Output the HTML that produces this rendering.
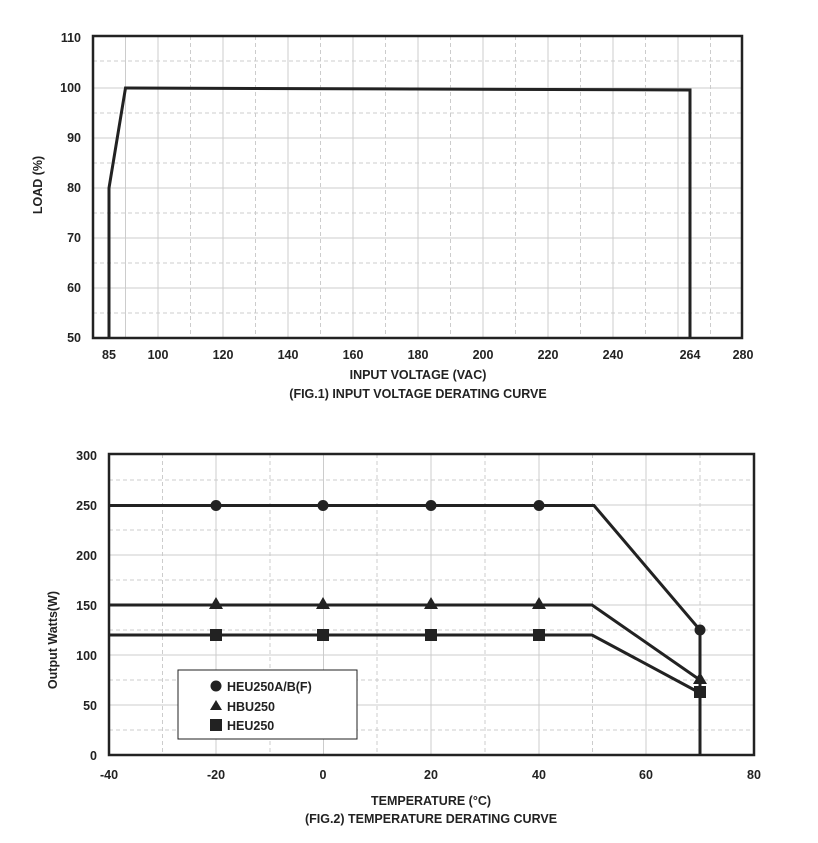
<!DOCTYPE html>
<html><head><style>body{margin:0;background:#fff}svg{display:block}text{font-family:"Liberation Sans",Arial,sans-serif;font-weight:bold;fill:#222}</style></head>
<body>
<svg width="818" height="843" viewBox="0 0 818 843" xmlns="http://www.w3.org/2000/svg">
<g id="f1">
<!-- grid fig1 -->
<g stroke="#ccc" stroke-width="1">
<line x1="125.5" y1="36" x2="125.5" y2="338"/><line x1="158" y1="36" x2="158" y2="338"/>
<line x1="190.5" y1="36" x2="190.5" y2="338" stroke-dasharray="4,3"/><line x1="223" y1="36" x2="223" y2="338"/>
<line x1="255.5" y1="36" x2="255.5" y2="338" stroke-dasharray="4,3"/><line x1="288" y1="36" x2="288" y2="338"/>
<line x1="320.5" y1="36" x2="320.5" y2="338" stroke-dasharray="4,3"/><line x1="353" y1="36" x2="353" y2="338"/>
<line x1="385.5" y1="36" x2="385.5" y2="338" stroke-dasharray="4,3"/><line x1="418" y1="36" x2="418" y2="338"/>
<line x1="450.5" y1="36" x2="450.5" y2="338" stroke-dasharray="4,3"/><line x1="483" y1="36" x2="483" y2="338"/>
<line x1="515.5" y1="36" x2="515.5" y2="338" stroke-dasharray="4,3"/><line x1="548" y1="36" x2="548" y2="338"/>
<line x1="580.5" y1="36" x2="580.5" y2="338" stroke-dasharray="4,3"/><line x1="613" y1="36" x2="613" y2="338"/>
<line x1="645.5" y1="36" x2="645.5" y2="338" stroke-dasharray="4,3"/><line x1="678" y1="36" x2="678" y2="338"/>
<line x1="710.5" y1="36" x2="710.5" y2="338" stroke-dasharray="4,3"/>
<line x1="93" y1="88" x2="742" y2="88"/><line x1="93" y1="138" x2="742" y2="138"/><line x1="93" y1="188" x2="742" y2="188"/>
<line x1="93" y1="238" x2="742" y2="238"/><line x1="93" y1="288" x2="742" y2="288"/>
<g stroke-dasharray="4,3"><line x1="93" y1="61" x2="742" y2="61"/><line x1="93" y1="113" x2="742" y2="113"/><line x1="93" y1="163" x2="742" y2="163"/><line x1="93" y1="213" x2="742" y2="213"/><line x1="93" y1="263" x2="742" y2="263"/><line x1="93" y1="313" x2="742" y2="313"/></g>
</g>
<rect x="93" y="36" width="649" height="302" fill="none" stroke="#222" stroke-width="2.5"/>
<polyline points="109,338 109,188 125.5,88 690,90 690,338" fill="none" stroke="#222" stroke-width="3"/>
<g font-size="12.5" text-anchor="end">
<text x="81" y="42">110</text><text x="81" y="92">100</text><text x="81" y="142">90</text><text x="81" y="192">80</text><text x="81" y="242">70</text><text x="81" y="292">60</text><text x="81" y="342">50</text>
</g>
<g font-size="12.5" text-anchor="middle">
<text x="109" y="359">85</text><text x="158" y="359">100</text><text x="223" y="359">120</text><text x="288" y="359">140</text><text x="353" y="359">160</text><text x="418" y="359">180</text><text x="483" y="359">200</text><text x="548" y="359">220</text><text x="613" y="359">240</text><text x="690" y="359">264</text><text x="743" y="359">280</text>
<text x="418" y="379">INPUT VOLTAGE (VAC)</text>
<text x="418" y="398">(FIG.1) INPUT VOLTAGE DERATING CURVE</text>
</g>
<text font-size="12.5" text-anchor="middle" transform="translate(42,185) rotate(-90)">LOAD (%)</text>
</g>
<g id="f2">
<g stroke="#ccc" stroke-width="1">
<line x1="162.5" y1="454" x2="162.5" y2="755" stroke-dasharray="4,3"/><line x1="216" y1="454" x2="216" y2="755"/>
<line x1="270" y1="454" x2="270" y2="755" stroke-dasharray="4,3"/><line x1="323.5" y1="454" x2="323.5" y2="755"/>
<line x1="377" y1="454" x2="377" y2="755" stroke-dasharray="4,3"/><line x1="431" y1="454" x2="431" y2="755"/>
<line x1="485" y1="454" x2="485" y2="755" stroke-dasharray="4,3"/><line x1="539" y1="454" x2="539" y2="755"/>
<line x1="592.5" y1="454" x2="592.5" y2="755" stroke-dasharray="4,3"/><line x1="646" y1="454" x2="646" y2="755"/>
<line x1="700" y1="454" x2="700" y2="755" stroke-dasharray="4,3"/>
<line x1="109" y1="505" x2="754" y2="505"/><line x1="109" y1="555" x2="754" y2="555"/><line x1="109" y1="605" x2="754" y2="605"/><line x1="109" y1="655" x2="754" y2="655"/><line x1="109" y1="705" x2="754" y2="705"/>
<g stroke-dasharray="4,3"><line x1="109" y1="480" x2="754" y2="480"/><line x1="109" y1="530" x2="754" y2="530"/><line x1="109" y1="580" x2="754" y2="580"/><line x1="109" y1="630" x2="754" y2="630"/><line x1="109" y1="680" x2="754" y2="680"/><line x1="109" y1="730" x2="754" y2="730"/></g>
</g>
<rect x="109" y="454" width="645" height="301" fill="none" stroke="#222" stroke-width="2.5"/>
<g fill="none" stroke="#222" stroke-width="3">
<polyline points="109,505.5 594,505.5 700,630 700,755"/>
<polyline points="109,605 592,605 700,680"/>
<polyline points="109,635 592,635 700,693"/>
</g>
<g fill="#222">
<circle cx="216" cy="505.5" r="5.5"/><circle cx="323" cy="505.5" r="5.5"/><circle cx="431" cy="505.5" r="5.5"/><circle cx="539" cy="505.5" r="5.5"/><circle cx="700" cy="630" r="5.5"/>
<path d="M216,597 l7,12 h-14z M323,597 l7,12 h-14z M431,597 l7,12 h-14z M539,597 l7,12 h-14z M700,672 l7,12 h-14z"/>
<rect x="210" y="629" width="12" height="12"/><rect x="317" y="629" width="12" height="12"/><rect x="425" y="629" width="12" height="12"/><rect x="533" y="629" width="12" height="12"/><rect x="694" y="686" width="12" height="12"/>
</g>
<rect x="178" y="670" width="179" height="69" fill="#fff" stroke="#222" stroke-width="1"/>
<circle cx="216" cy="686" r="5.5" fill="#222"/>
<path d="M216,700 l6,10 h-12z" fill="#222"/>
<rect x="210" y="719" width="12" height="12" fill="#222"/>
<g font-size="12.5"><text x="227" y="691">HEU250A/B(F)</text><text x="227" y="711">HBU250</text><text x="227" y="730">HEU250</text></g>
<g font-size="12.5" text-anchor="end">
<text x="97" y="460">300</text><text x="97" y="510">250</text><text x="97" y="560">200</text><text x="97" y="610">150</text><text x="97" y="660">100</text><text x="97" y="710">50</text><text x="97" y="760">0</text>
</g>
<g font-size="12.5" text-anchor="middle">
<text x="109" y="779">-40</text><text x="216" y="779">-20</text><text x="323" y="779">0</text><text x="431" y="779">20</text><text x="539" y="779">40</text><text x="646" y="779">60</text><text x="754" y="779">80</text>
<text x="431" y="805">TEMPERATURE (°C)</text>
<text x="431" y="823">(FIG.2) TEMPERATURE DERATING CURVE</text>
</g>
<text font-size="12.5" text-anchor="middle" transform="translate(57,640) rotate(-90)">Output Watts(W)</text>
</g>
</svg>
</body></html>
